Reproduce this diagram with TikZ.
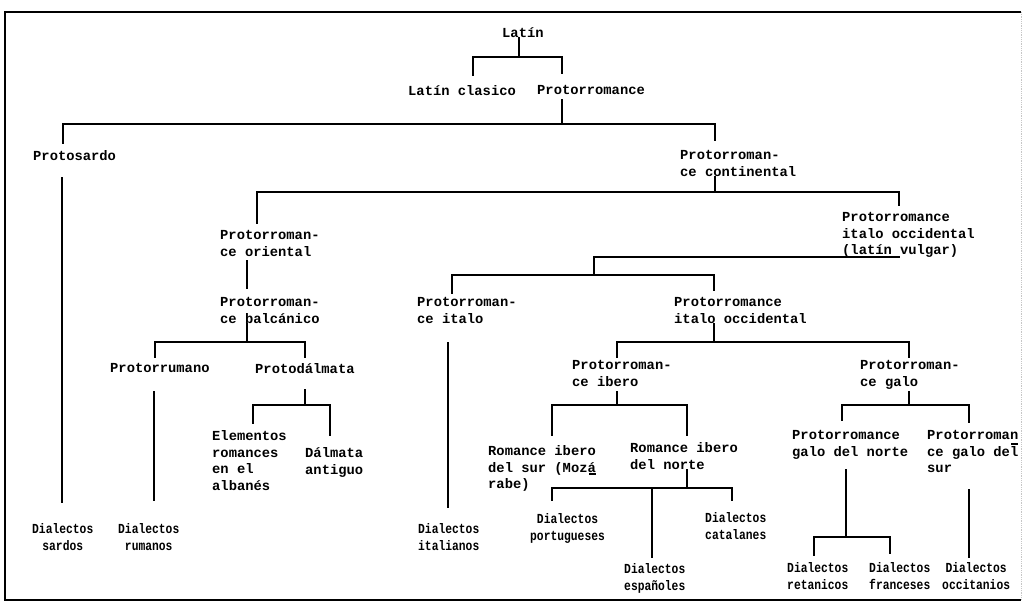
\documentclass[tikz,border=0pt]{standalone}
\usepackage{fontspec}
\newfontfamily\twfont{Liberation Mono}
\newfontfamily\twnfont{Liberation Mono}[FakeStretch=0.82]
\tikzset{
  lbl/.style={anchor=north west, inner sep=0pt, align=left,
    font=\twfont\bfseries\fontsize{13.8}{16.8}\selectfont},
  dlbl/.style={anchor=north west, inner sep=0pt, align=center,
    font=\twnfont\bfseries\fontsize{13.8}{17}\selectfont},
  ln/.style={line width=1.6pt, line cap=rect},
  frame/.style={line width=1.8pt},
  hyph/.style={line width=1.2pt}
}
\begin{document}
\begin{tikzpicture}[x=1pt,y=-1pt]
\useasboundingbox (0,0) rectangle (1024,604);
% frame
\draw[frame] (1021,12) -- (5,12) -- (5,600) -- (1021,600);
\draw[line width=0.8pt, gray!45, densely dotted] (1021,12) -- (1021,600);

% labels
\node[lbl] (latin) at (502,27) {Latín};
\node[lbl] (clasico) at (408,85) {Latín clasico};
\node[lbl] (proto) at (537,85) {Protorromance};
\node[lbl] (sardo) at (33,150) {Protosardo};
\node[lbl] (cont) at (680,150) {Protorroman-\\ce continental};
\node[lbl] (orient) at (220,230) {Protorroman-\\ce oriental};
\node[lbl] (vulgar) at (842,212) {Protorromance\\italo occidental\\(latín vulgar)};
\node[lbl] (balc) at (220,297) {Protorroman-\\ce balcánico};
\node[lbl] (italo) at (417,297) {Protorroman-\\ce italo};
\node[lbl] (itoc) at (674,297) {Protorromance\\italo occidental};
\node[lbl] (rumano) at (110,363) {Protorrumano};
\node[lbl] (dalm) at (255,363) {Protodálmata};
\node[lbl] (ibero) at (572,360) {Protorroman-\\ce ibero};
\node[lbl] (galo) at (860,360) {Protorroman-\\ce galo};
\node[lbl] (elem) at (212,430) {Elementos\\romances\\en el\\albanés};
\node[lbl] (dalmant) at (305,447) {Dálmata\\antiguo};
\node[lbl] (sur) at (488,445) {Romance ibero\\del sur (Mozá\\rabe)};
\node[lbl] (norte) at (630,442) {Romance ibero\\del norte};
\node[lbl] (galnorte) at (792,430) {Protorromance\\galo del norte};
\node[lbl] (galsur) at (927,430) {Protorroman\\ce galo del\\sur};
% typed hyphen marks
\draw[hyph] (589,474) -- (596,474);
\draw[hyph] (1011,444) -- (1018,444);

\node[dlbl] (dsardos) at (32,523) {Dialectos\\sardos};
\node[dlbl] (drumanos) at (118,523) {Dialectos\\rumanos};
\node[dlbl] (dital) at (418,523) {Dialectos\\italianos};
\node[dlbl] (dport) at (530,513) {Dialectos\\portugueses};
\node[dlbl] (dcat) at (705,512) {Dialectos\\catalanes};
\node[dlbl] (desp) at (624,563) {Dialectos\\españoles};
\node[dlbl] (dret) at (787,562) {Dialectos\\retanicos};
\node[dlbl] (dfran) at (869,562) {Dialectos\\franceses};
\node[dlbl] (doc) at (942,562) {Dialectos\\occitanios};

% connectors
\draw[ln] (latin.south -| 519,0) -- (519,57);
\draw[ln] (473,75) |- (562,57) -- (562,73);
\draw[ln] (proto.south -| 562,0) ++(0,5) -- (562,124);
\draw[ln] (63,143) |- (715,124) -- (715,140);
\draw[ln] (62,178) -- (62,502);
\draw[ln] (cont.south -| 715,0) -- (715,192);
\draw[ln] (257,223) |- (899,192) -- (899,205);
\draw[ln] (orient.south -| 247,0) ++(0,4) -- (247,288);
\draw[ln] (899,257) -- (594,257) -- (594,275);
\draw[ln] (452,293) |- (714,275) -- (714,290);
\draw[ln] (balc.south -| 247,0) -- (247,342);
\draw[ln] (155,357) |- (305,342) -- (305,357);
\draw[ln] (448,343) -- (448,507);
\draw[ln] (itoc.south -| 714,0) -- (714,342);
\draw[ln] (617,357) |- (909,342) -- (909,357);
\draw[ln] (154,392) -- (154,500);
\draw[ln] (305,390) -- (305,405);
\draw[ln] (253,423) |- (330,405) -- (330,435);
\draw[ln] (617,392) -- (617,405);
\draw[ln] (552,435) |- (687,405) -- (687,435);
\draw[ln] (909,392) -- (909,405);
\draw[ln] (842,420) |- (969,405) -- (969,422);
\draw[ln] (norte.south -| 687,0) -- (687,488);
\draw[ln] (552,500) |- (732,488) -- (732,500);
\draw[ln] (652,488) -- (652,557);
\draw[ln] (846,470) -- (846,537);
\draw[ln] (814,555) |- (890,537) -- (890,553);
\draw[ln] (969,490) -- (969,557);
\end{tikzpicture}
\end{document}
